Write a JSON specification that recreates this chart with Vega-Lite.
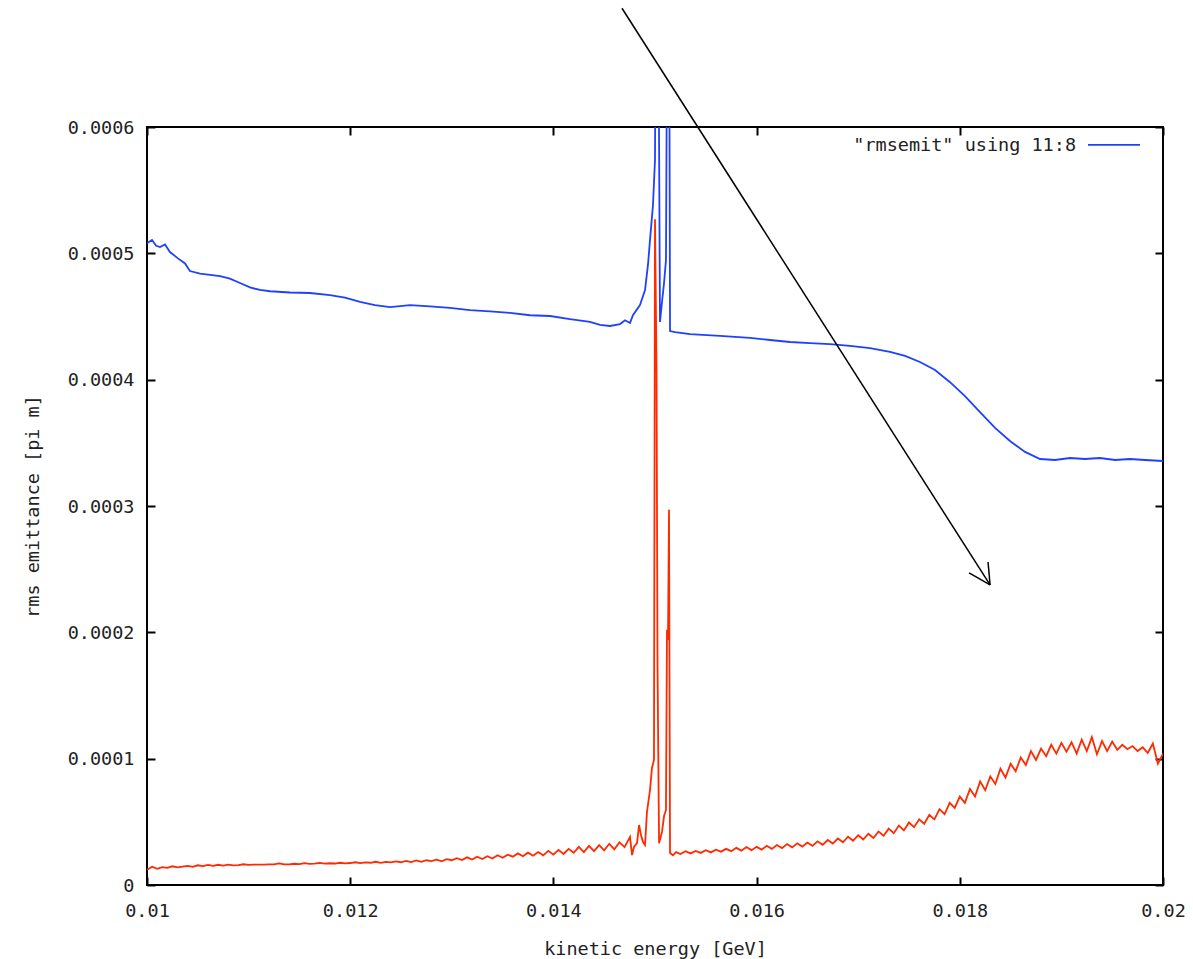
{
  "$schema": "https://vega.github.io/schema/vega-lite/v6.json",
  "width": 1016,
  "height": 758,
  "autosize": "none",
  "padding": {"left": 147, "top": 127, "right": 30, "bottom": 74},
  "background": "white",
  "config": {
    "view": {"stroke": "black", "strokeWidth": 2},
    "axis": {
      "domain": false,
      "grid": false,
      "tickColor": "black",
      "tickWidth": 2,
      "tickSize": -8,
      "labelFlush": false,
      "labelFont": "DejaVu Sans Mono",
      "labelFontSize": 18.5,
      "labelColor": "#222",
      "titleFont": "DejaVu Sans Mono",
      "titleFontSize": 18.5,
      "titleFontWeight": "normal",
      "titleColor": "#222"
    }
  },
  "datasets": {
    "red": [
      {"x": 0.01000, "y": 12.0e-6}, {"x": 0.01005, "y": 14.5e-6}, {"x": 0.01010, "y": 12.8e-6}, {"x": 0.01015, "y": 14.2e-6},
      {"x": 0.01020, "y": 13.5e-6}, {"x": 0.01025, "y": 14.8e-6}, {"x": 0.01030, "y": 13.9e-6}, {"x": 0.01035, "y": 14.6e-6},
      {"x": 0.01040, "y": 15.2e-6}, {"x": 0.01045, "y": 14.3e-6}, {"x": 0.01050, "y": 15.6e-6}, {"x": 0.01055, "y": 15.0e-6},
      {"x": 0.01060, "y": 15.9e-6}, {"x": 0.01065, "y": 15.2e-6}, {"x": 0.01070, "y": 16.0e-6}, {"x": 0.01075, "y": 15.4e-6},
      {"x": 0.01080, "y": 16.1e-6}, {"x": 0.01085, "y": 15.6e-6}, {"x": 0.01090, "y": 15.8e-6}, {"x": 0.01095, "y": 16.4e-6},
      {"x": 0.01100, "y": 15.9e-6}, {"x": 0.01105, "y": 16.2e-6}, {"x": 0.01110, "y": 16.2e-6}, {"x": 0.01115, "y": 16.2e-6},
      {"x": 0.01120, "y": 16.3e-6}, {"x": 0.01125, "y": 16.3e-6}, {"x": 0.01130, "y": 17.1e-6}, {"x": 0.01135, "y": 16.4e-6},
      {"x": 0.01140, "y": 16.4e-6}, {"x": 0.01145, "y": 16.8e-6}, {"x": 0.01150, "y": 16.6e-6}, {"x": 0.01155, "y": 17.3e-6},
      {"x": 0.01160, "y": 16.7e-6}, {"x": 0.01165, "y": 16.9e-6}, {"x": 0.01170, "y": 17.5e-6}, {"x": 0.01175, "y": 16.9e-6},
      {"x": 0.01180, "y": 17.2e-6}, {"x": 0.01185, "y": 17.0e-6}, {"x": 0.01190, "y": 17.6e-6}, {"x": 0.01195, "y": 17.1e-6},
      {"x": 0.01200, "y": 17.4e-6}, {"x": 0.01205, "y": 18.0e-6}, {"x": 0.01210, "y": 17.3e-6}, {"x": 0.01215, "y": 17.9e-6},
      {"x": 0.01220, "y": 17.6e-6}, {"x": 0.01225, "y": 18.4e-6}, {"x": 0.01230, "y": 17.5e-6}, {"x": 0.01235, "y": 18.3e-6},
      {"x": 0.01240, "y": 17.9e-6}, {"x": 0.01245, "y": 18.7e-6}, {"x": 0.01250, "y": 18.0e-6}, {"x": 0.01255, "y": 19.1e-6},
      {"x": 0.01260, "y": 18.2e-6}, {"x": 0.01265, "y": 19.5e-6}, {"x": 0.01270, "y": 18.4e-6}, {"x": 0.01275, "y": 19.6e-6},
      {"x": 0.01280, "y": 18.9e-6}, {"x": 0.01285, "y": 20.1e-6}, {"x": 0.01290, "y": 18.8e-6}, {"x": 0.01295, "y": 20.4e-6},
      {"x": 0.01300, "y": 19.6e-6}, {"x": 0.01305, "y": 21.2e-6}, {"x": 0.01310, "y": 19.8e-6}, {"x": 0.01315, "y": 21.9e-6},
      {"x": 0.01320, "y": 20.2e-6}, {"x": 0.01325, "y": 22.4e-6}, {"x": 0.01330, "y": 20.6e-6}, {"x": 0.01335, "y": 22.8e-6},
      {"x": 0.01340, "y": 21.0e-6}, {"x": 0.01345, "y": 23.6e-6}, {"x": 0.01350, "y": 21.5e-6}, {"x": 0.01355, "y": 24.0e-6},
      {"x": 0.01360, "y": 22.4e-6}, {"x": 0.01365, "y": 25.0e-6}, {"x": 0.01370, "y": 22.8e-6}, {"x": 0.01375, "y": 25.6e-6},
      {"x": 0.01380, "y": 23.2e-6}, {"x": 0.01385, "y": 26.1e-6}, {"x": 0.01390, "y": 23.5e-6}, {"x": 0.01395, "y": 27.0e-6},
      {"x": 0.01400, "y": 24.0e-6}, {"x": 0.01405, "y": 27.8e-6}, {"x": 0.01410, "y": 24.6e-6}, {"x": 0.01415, "y": 28.6e-6},
      {"x": 0.01420, "y": 25.5e-6}, {"x": 0.01425, "y": 30.2e-6}, {"x": 0.01430, "y": 26.0e-6}, {"x": 0.01435, "y": 31.0e-6},
      {"x": 0.01440, "y": 26.8e-6}, {"x": 0.01445, "y": 31.5e-6}, {"x": 0.01450, "y": 27.4e-6}, {"x": 0.01455, "y": 32.6e-6},
      {"x": 0.01460, "y": 28.2e-6}, {"x": 0.01465, "y": 33.8e-6}, {"x": 0.01470, "y": 30.0e-6},
      {"x": 0.014754, "y": 38.0e-6}, {"x": 0.014774, "y": 23.7e-6}, {"x": 0.014793, "y": 30.1e-6}, {"x": 0.014823, "y": 33.2e-6},
      {"x": 0.014843, "y": 47.5e-6}, {"x": 0.014862, "y": 39.6e-6}, {"x": 0.014882, "y": 34.0e-6}, {"x": 0.014902, "y": 31.7e-6},
      {"x": 0.014921, "y": 57.8e-6}, {"x": 0.014951, "y": 75.2e-6}, {"x": 0.014970, "y": 92.6e-6}, {"x": 0.014990, "y": 99e-6},
      {"x": 0.015000, "y": 527e-6}, {"x": 0.015015, "y": 408e-6}, {"x": 0.015025, "y": 172e-6}, {"x": 0.015040, "y": 33e-6},
      {"x": 0.015069, "y": 42e-6}, {"x": 0.015089, "y": 54.6e-6}, {"x": 0.015108, "y": 59.4e-6}, {"x": 0.015118, "y": 202e-6},
      {"x": 0.015128, "y": 194e-6}, {"x": 0.015138, "y": 297e-6}, {"x": 0.015148, "y": 25.3e-6}, {"x": 0.015177, "y": 23.5e-6},
      {"x": 0.015207, "y": 26.0e-6},
      {"x": 0.01525, "y": 24.5e-6}, {"x": 0.01530, "y": 26.8e-6}, {"x": 0.01535, "y": 25.0e-6}, {"x": 0.01540, "y": 27.0e-6},
      {"x": 0.01545, "y": 25.4e-6}, {"x": 0.01550, "y": 27.5e-6}, {"x": 0.01555, "y": 25.8e-6}, {"x": 0.01560, "y": 28.0e-6},
      {"x": 0.01565, "y": 26.4e-6}, {"x": 0.01570, "y": 28.6e-6}, {"x": 0.01575, "y": 26.8e-6}, {"x": 0.01580, "y": 29.4e-6},
      {"x": 0.01585, "y": 27.2e-6}, {"x": 0.01590, "y": 30.0e-6}, {"x": 0.01595, "y": 27.6e-6}, {"x": 0.01600, "y": 30.2e-6},
      {"x": 0.01605, "y": 28.0e-6}, {"x": 0.01610, "y": 31.0e-6}, {"x": 0.01615, "y": 28.6e-6}, {"x": 0.01620, "y": 31.6e-6},
      {"x": 0.01625, "y": 29.2e-6}, {"x": 0.01630, "y": 32.4e-6}, {"x": 0.01635, "y": 29.8e-6}, {"x": 0.01640, "y": 33.0e-6},
      {"x": 0.01645, "y": 30.4e-6}, {"x": 0.01650, "y": 33.6e-6}, {"x": 0.01655, "y": 31.0e-6}, {"x": 0.01660, "y": 34.6e-6},
      {"x": 0.01665, "y": 31.8e-6}, {"x": 0.01670, "y": 35.6e-6}, {"x": 0.01675, "y": 32.8e-6}, {"x": 0.01680, "y": 36.8e-6},
      {"x": 0.01685, "y": 33.8e-6}, {"x": 0.01690, "y": 38.2e-6}, {"x": 0.01695, "y": 35.0e-6}, {"x": 0.01700, "y": 39.4e-6},
      {"x": 0.01705, "y": 36.0e-6}, {"x": 0.01710, "y": 40.6e-6}, {"x": 0.01715, "y": 37.2e-6}, {"x": 0.01720, "y": 42.4e-6},
      {"x": 0.01725, "y": 39.0e-6}, {"x": 0.01730, "y": 44.6e-6}, {"x": 0.01735, "y": 41.0e-6}, {"x": 0.01740, "y": 47.0e-6},
      {"x": 0.01745, "y": 43.2e-6}, {"x": 0.01750, "y": 49.5e-6}, {"x": 0.01755, "y": 45.8e-6}, {"x": 0.01760, "y": 52.0e-6},
      {"x": 0.01765, "y": 48.5e-6}, {"x": 0.01770, "y": 55.5e-6}, {"x": 0.01775, "y": 52.0e-6}, {"x": 0.01780, "y": 60.0e-6},
      {"x": 0.01785, "y": 56.0e-6}, {"x": 0.01790, "y": 65.0e-6}, {"x": 0.01795, "y": 61.0e-6}, {"x": 0.01800, "y": 70.0e-6},
      {"x": 0.01805, "y": 65.0e-6}, {"x": 0.01810, "y": 76.0e-6}, {"x": 0.01815, "y": 70.0e-6}, {"x": 0.01820, "y": 82.0e-6},
      {"x": 0.01825, "y": 75.0e-6}, {"x": 0.01830, "y": 86.0e-6}, {"x": 0.01835, "y": 80.0e-6}, {"x": 0.01840, "y": 92.0e-6},
      {"x": 0.01845, "y": 85.0e-6}, {"x": 0.01850, "y": 96.0e-6}, {"x": 0.01855, "y": 90.0e-6}, {"x": 0.01860, "y": 101.0e-6},
      {"x": 0.01865, "y": 95.0e-6}, {"x": 0.01870, "y": 106.0e-6}, {"x": 0.01875, "y": 99.0e-6}, {"x": 0.01880, "y": 108.0e-6},
      {"x": 0.01885, "y": 102.0e-6}, {"x": 0.01890, "y": 111.0e-6}, {"x": 0.01895, "y": 104.0e-6}, {"x": 0.01900, "y": 112.5e-6},
      {"x": 0.01905, "y": 105.5e-6}, {"x": 0.01910, "y": 113.0e-6}, {"x": 0.01915, "y": 104.0e-6}, {"x": 0.01920, "y": 115.0e-6},
      {"x": 0.01925, "y": 106.0e-6}, {"x": 0.01930, "y": 117.0e-6}, {"x": 0.01935, "y": 103.5e-6}, {"x": 0.01940, "y": 114.0e-6},
      {"x": 0.01945, "y": 106.0e-6}, {"x": 0.01950, "y": 113.5e-6}, {"x": 0.01955, "y": 107.0e-6}, {"x": 0.01960, "y": 111.0e-6},
      {"x": 0.01965, "y": 107.5e-6}, {"x": 0.01970, "y": 110.0e-6}, {"x": 0.01975, "y": 106.0e-6}, {"x": 0.01980, "y": 109.0e-6},
      {"x": 0.01985, "y": 104.5e-6}, {"x": 0.01990, "y": 112.0e-6}, {"x": 0.01995, "y": 96.0e-6}, {"x": 0.02000, "y": 104.0e-6}
    ],
    "blue": [
      {"x": 0.010000, "y": 508e-6}, {"x": 0.010049, "y": 510.6e-6}, {"x": 0.010090, "y": 506e-6}, {"x": 0.010128, "y": 505e-6},
      {"x": 0.010177, "y": 507e-6}, {"x": 0.010226, "y": 501e-6}, {"x": 0.010305, "y": 496e-6}, {"x": 0.010374, "y": 492e-6},
      {"x": 0.010423, "y": 486e-6}, {"x": 0.010522, "y": 484e-6}, {"x": 0.010620, "y": 483e-6}, {"x": 0.010719, "y": 482e-6},
      {"x": 0.010817, "y": 480e-6}, {"x": 0.010915, "y": 476.5e-6}, {"x": 0.011014, "y": 473e-6}, {"x": 0.011112, "y": 471e-6},
      {"x": 0.011211, "y": 470e-6}, {"x": 0.011407, "y": 469e-6}, {"x": 0.011604, "y": 468.6e-6}, {"x": 0.011801, "y": 467e-6},
      {"x": 0.011949, "y": 465e-6}, {"x": 0.012097, "y": 461.5e-6}, {"x": 0.012244, "y": 459e-6}, {"x": 0.012392, "y": 457.5e-6},
      {"x": 0.012589, "y": 459e-6}, {"x": 0.012786, "y": 458e-6}, {"x": 0.012982, "y": 456.8e-6}, {"x": 0.013179, "y": 455e-6},
      {"x": 0.013376, "y": 454e-6}, {"x": 0.013573, "y": 452.8e-6}, {"x": 0.013770, "y": 451e-6}, {"x": 0.013967, "y": 450.4e-6},
      {"x": 0.014163, "y": 448e-6}, {"x": 0.014360, "y": 445.7e-6}, {"x": 0.014459, "y": 443.3e-6}, {"x": 0.014557, "y": 442.5e-6},
      {"x": 0.014656, "y": 444e-6}, {"x": 0.014705, "y": 447e-6}, {"x": 0.014754, "y": 444.9e-6}, {"x": 0.014783, "y": 451e-6},
      {"x": 0.014852, "y": 459e-6}, {"x": 0.014902, "y": 471e-6}, {"x": 0.014931, "y": 491e-6}, {"x": 0.014951, "y": 510.6e-6},
      {"x": 0.014980, "y": 538e-6}, {"x": 0.015000, "y": 574e-6}, {"x": 0.015010, "y": 750e-6}, {"x": 0.015030, "y": 750e-6},
      {"x": 0.015049, "y": 445.7e-6}, {"x": 0.015069, "y": 461.5e-6}, {"x": 0.015089, "y": 476.5e-6}, {"x": 0.015108, "y": 494.7e-6},
      {"x": 0.015123, "y": 750e-6}, {"x": 0.015138, "y": 750e-6}, {"x": 0.015148, "y": 438.5e-6}, {"x": 0.015197, "y": 437.7e-6},
      {"x": 0.015344, "y": 436e-6}, {"x": 0.015640, "y": 434.6e-6}, {"x": 0.015935, "y": 433e-6}, {"x": 0.016132, "y": 431.4e-6},
      {"x": 0.016329, "y": 429.8e-6}, {"x": 0.016526, "y": 429e-6}, {"x": 0.016722, "y": 428.2e-6}, {"x": 0.016919, "y": 426.7e-6},
      {"x": 0.017116, "y": 425e-6}, {"x": 0.017313, "y": 422e-6}, {"x": 0.017461, "y": 418.8e-6}, {"x": 0.017608, "y": 414e-6},
      {"x": 0.017756, "y": 407.7e-6}, {"x": 0.017904, "y": 398e-6}, {"x": 0.018051, "y": 387e-6}, {"x": 0.018199, "y": 374.4e-6},
      {"x": 0.018347, "y": 361.8e-6}, {"x": 0.018494, "y": 351.5e-6}, {"x": 0.018642, "y": 342.8e-6}, {"x": 0.018790, "y": 337.2e-6},
      {"x": 0.018937, "y": 336.4e-6}, {"x": 0.019085, "y": 338e-6}, {"x": 0.019232, "y": 337.2e-6}, {"x": 0.019380, "y": 338e-6},
      {"x": 0.019528, "y": 336.4e-6}, {"x": 0.019675, "y": 337.2e-6}, {"x": 0.019823, "y": 336.4e-6}, {"x": 0.020000, "y": 335.6e-6}
    ],
    "arrow": [
      {"x": 0.014675, "y": 694e-6, "x2": 0.018298, "y2": 237.5e-6},
      {"x": 0.018091, "y": 247e-6, "x2": 0.018298, "y2": 237.5e-6},
      {"x": 0.018278, "y": 255.7e-6, "x2": 0.018298, "y2": 237.5e-6}
    ],
    "legendText": [{"x": 0.019144, "y": 585.8e-6, "label": "\"rmsemit\" using 11:8"}],
    "legendLine": [{"x": 0.019262, "x2": 0.019774, "y": 585.8e-6}]
  },
  "resolve": {"axis": {"x": "independent", "y": "independent"}},
  "layer": [
    {
      "data": {"name": "red"},
      "mark": {"type": "line", "color": "#ff2a00", "strokeWidth": 1.8, "clip": true},
      "encoding": {
        "x": {"field": "x", "type": "quantitative", "scale": {"domain": [0.01, 0.02], "nice": false, "zero": false},
          "axis": {"orient": "bottom", "values": [0.01, 0.012, 0.014, 0.016, 0.018, 0.02], "format": "~g", "labelPadding": 24, "title": "kinetic energy [GeV]", "titlePadding": 20}},
        "y": {"field": "y", "type": "quantitative", "scale": {"domain": [0, 0.0006], "nice": false},
          "axis": {"orient": "left", "values": [0, 0.0001, 0.0002, 0.0003, 0.0004, 0.0005, 0.0006], "format": "~g", "labelPadding": 21, "title": "rms emittance [pi m]", "titlePadding": 25}}
      }
    },
    {
      "data": {"name": "blue"},
      "mark": {"type": "line", "color": "#2040ff", "strokeWidth": 1.8, "clip": true},
      "encoding": {
        "x": {"field": "x", "type": "quantitative", "axis": {"orient": "top", "values": [0.01, 0.012, 0.014, 0.016, 0.018, 0.02], "labels": false, "title": null}},
        "y": {"field": "y", "type": "quantitative", "axis": {"orient": "right", "values": [0, 0.0001, 0.0002, 0.0003, 0.0004, 0.0005, 0.0006], "labels": false, "title": null}}
      }
    },
    {
      "data": {"name": "arrow"},
      "mark": {"type": "rule", "color": "black", "strokeWidth": 1.5, "clip": false},
      "encoding": {
        "x": {"field": "x", "type": "quantitative", "axis": null},
        "y": {"field": "y", "type": "quantitative", "axis": null},
        "x2": {"field": "x2"},
        "y2": {"field": "y2"}
      }
    },
    {
      "data": {"name": "legendText"},
      "mark": {"type": "text", "align": "right", "baseline": "middle", "font": "DejaVu Sans Mono", "fontSize": 18.5, "color": "#222"},
      "encoding": {
        "x": {"field": "x", "type": "quantitative", "axis": null},
        "y": {"field": "y", "type": "quantitative", "axis": null},
        "text": {"field": "label"}
      }
    },
    {
      "data": {"name": "legendLine"},
      "mark": {"type": "rule", "color": "#2040ff", "strokeWidth": 1.8},
      "encoding": {
        "x": {"field": "x", "type": "quantitative", "axis": null},
        "x2": {"field": "x2"},
        "y": {"field": "y", "type": "quantitative", "axis": null}
      }
    }
  ]
}
